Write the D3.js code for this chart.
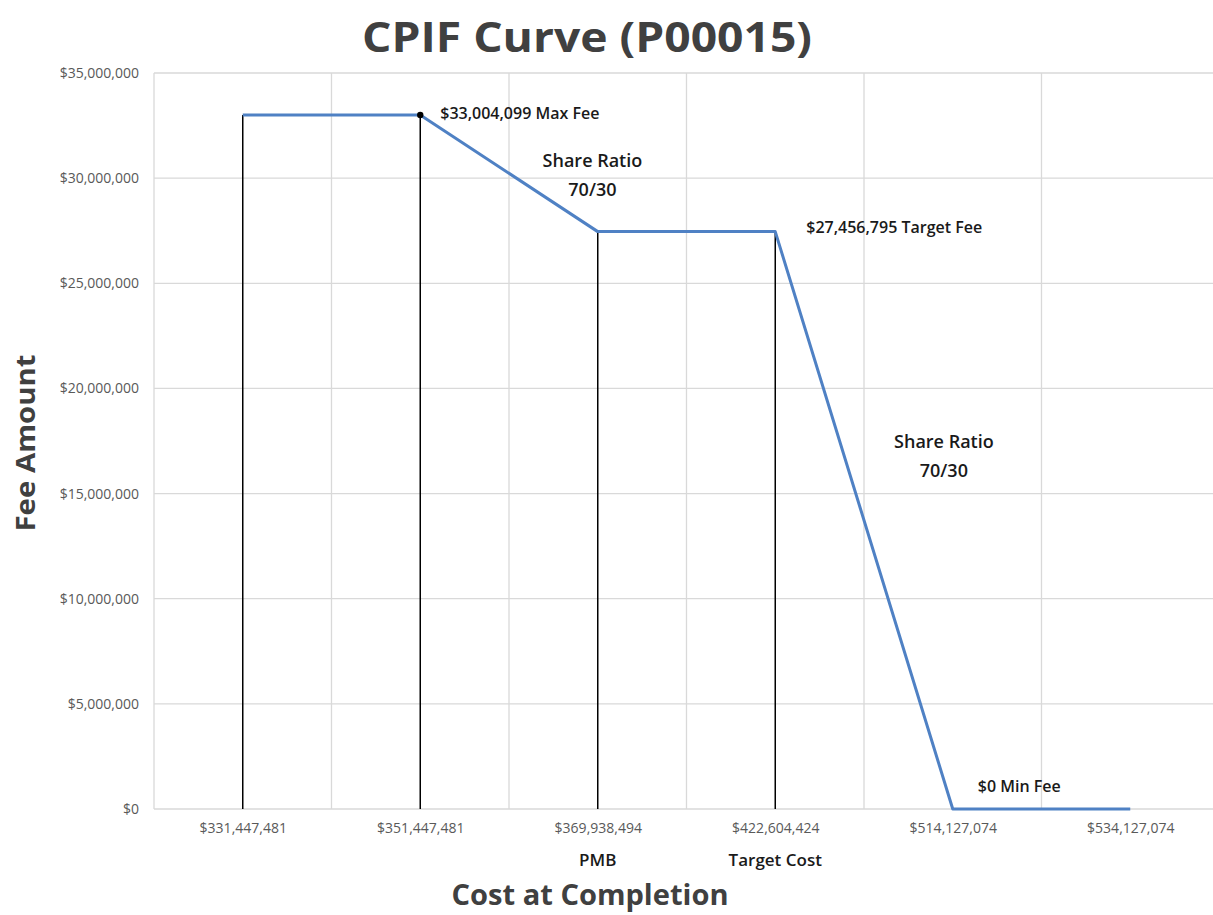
<!DOCTYPE html>
<html>
<head>
<meta charset="utf-8">
<script src="https://cdn.jsdelivr.net/npm/d3@7"></script>
<style>
  body { margin: 0; background: #fff; }
  svg { display: block; font-family: "Open Sans", "Noto Sans", sans-serif; }
</style>
</head>
<body>
<div id="chart"></div>
<script>
// --- DATA ---
const costLabels = ["$331,447,481", "$351,447,481", "$369,938,494", "$422,604,424", "$514,127,074", "$534,127,074"];
const feeValues = [33004099, 33004099, 27456795, 27456795, 0, 0];
const dropLineIdx = [0, 1, 2, 3];          // points with black drop lines
const markerIdx = [1];                      // point with a marker
const yTicks = [0, 5000000, 10000000, 15000000, 20000000, 25000000, 30000000, 35000000];
const subLabels = [{ idx: 2, text: "PMB" }, { idx: 3, text: "Target Cost" }];

// annotations: anchored on category index + value
const notes = [
  { idx: 1, value: 33004099, lines: ["$33,004,099 Max Fee"], dx: 20, dy: 0, anchor: "start" },
  { idx: 3, value: 27456795, lines: ["$27,456,795 Target Fee"], dx: 31, dy: -3, anchor: "start" },
  { idx: 4, value: 0, lines: ["$0 Min Fee"], dx: 25, dy: -21, anchor: "start" },
  { idx: 1.97, value: 30750000, lines: ["Share Ratio", "70/30"], dx: 0, dy: 0, anchor: "middle" },
  { idx: 3.95, value: 17400000, lines: ["Share Ratio", "70/30"], dx: 0, dy: 0, anchor: "middle" }
];

// --- LAYOUT ---
const W = 1213, H = 915;
const plot = { left: 154, right: 1219, top: 73, bottom: 809 };

const svg = d3.select("#chart").append("svg").attr("width", W).attr("height", H);

const xBand = d3.scaleBand().domain(d3.range(costLabels.length)).range([plot.left, plot.right]);
const xPos = i => plot.left + xBand.step() * (i + 0.5);
const y = d3.scaleLinear().domain([0, 35000000]).range([plot.bottom, plot.top]);

// gridlines
svg.append("g")
  .selectAll("line")
  .data(yTicks)
  .join("line")
  .attr("x1", plot.left).attr("x2", plot.right)
  .attr("y1", d => y(d)).attr("y2", d => y(d))
  .attr("stroke", "#d9d9d9").attr("stroke-width", 1.3);

svg.append("g")
  .selectAll("line")
  .data(d3.range(costLabels.length + 1))
  .join("line")
  .attr("x1", i => plot.left + xBand.step() * i).attr("x2", i => plot.left + xBand.step() * i)
  .attr("y1", plot.top).attr("y2", plot.bottom)
  .attr("stroke", "#d9d9d9").attr("stroke-width", 1.3);

// y axis labels
const yAxis = svg.append("g")
  .attr("transform", `translate(${plot.left - 15},0)`)
  .call(d3.axisLeft(y).tickValues(yTicks).tickSize(0).tickPadding(0)
    .tickFormat(d => "$" + d3.format(",")(d)));
yAxis.select(".domain").remove();
yAxis.selectAll("text")
  .style("font-size", "14px")
  .style("font-family", "'Open Sans', sans-serif")
  .attr("fill", "#595959");

// x axis labels
const xAxis = svg.append("g")
  .attr("transform", `translate(0,${plot.bottom + 14})`)
  .call(d3.axisBottom(d3.scalePoint().domain(costLabels).range([xPos(0), xPos(costLabels.length - 1)]))
    .tickSize(0).tickPadding(0));
xAxis.select(".domain").remove();
xAxis.selectAll("text")
  .style("font-size", "14px")
  .style("font-family", "'Open Sans', sans-serif")
  .attr("fill", "#595959");

// sub labels under x ticks
svg.append("g")
  .selectAll("text")
  .data(subLabels)
  .join("text")
  .attr("x", d => xPos(d.idx))
  .attr("y", plot.bottom + 57)
  .attr("text-anchor", "middle")
  .style("font-size", "17px")
  .style("font-weight", 600)
  .attr("fill", "#1a1a1a")
  .text(d => d.text);

// drop lines
svg.append("g")
  .selectAll("line")
  .data(dropLineIdx)
  .join("line")
  .attr("x1", i => xPos(i)).attr("x2", i => xPos(i))
  .attr("y1", i => y(feeValues[i])).attr("y2", y(0))
  .attr("stroke", "#000").attr("stroke-width", 1.5);

// fee curve
const line = d3.line().x((d, i) => xPos(i)).y(d => y(d));
svg.append("path")
  .datum(feeValues)
  .attr("fill", "none")
  .attr("stroke", "#4f81c4")
  .attr("stroke-width", 3)
  .attr("stroke-linejoin", "round")
  .attr("d", line);

svg.append("g")
  .selectAll("circle")
  .data(markerIdx)
  .join("circle")
  .attr("cx", i => xPos(i)).attr("cy", i => y(feeValues[i]))
  .attr("r", 3.2).attr("fill", "#000");

// annotations
notes.forEach(n => {
  const t = svg.append("text")
    .attr("x", xPos(n.idx) + n.dx)
    .attr("y", y(n.value) + n.dy)
    .attr("text-anchor", n.anchor)
    .attr("dominant-baseline", "middle")
    .style("font-size", n.lines.length > 1 ? "18px" : "16px")
    .style("font-weight", 600)
    .attr("fill", "#1a1a1a");
  n.lines.forEach((s, k) => {
    t.append("tspan").attr("x", xPos(n.idx) + n.dx).attr("dy", k === 0 ? 0 : 29).text(s);
  });
});

// titles
svg.append("text")
  .attr("x", 587).attr("y", 52)
  .attr("text-anchor", "middle")
  .style("font-size", "42px").style("font-weight", 700)
  .attr("fill", "#404040")
  .attr("textLength", 450).attr("lengthAdjust", "spacingAndGlyphs")
  .text("CPIF Curve (P00015)");

svg.append("text")
  .attr("transform", "translate(35,443) rotate(-90)")
  .attr("text-anchor", "middle")
  .style("font-size", "26px").style("font-weight", 700)
  .attr("fill", "#404040")
  .attr("textLength", 177).attr("lengthAdjust", "spacingAndGlyphs")
  .text("Fee Amount");

svg.append("text")
  .attr("x", 590).attr("y", 905)
  .attr("text-anchor", "middle")
  .style("font-size", "28px").style("font-weight", 700)
  .attr("fill", "#404040")
  .attr("textLength", 277).attr("lengthAdjust", "spacingAndGlyphs")
  .text("Cost at Completion");
</script>
</body>
</html>
